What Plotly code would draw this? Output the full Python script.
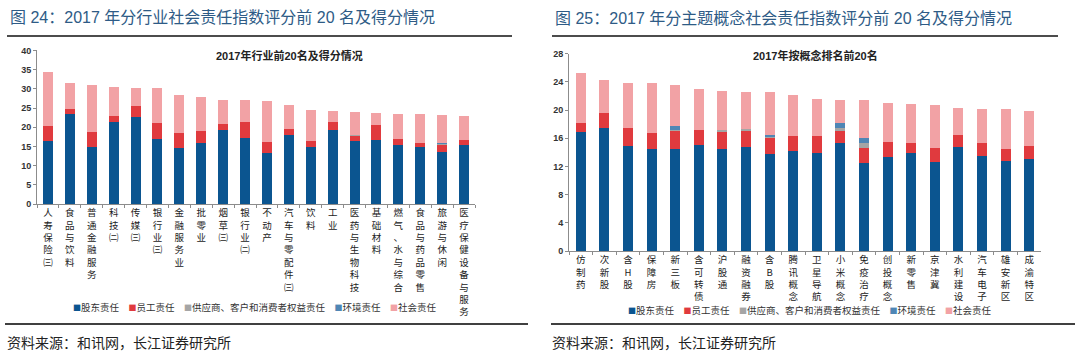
import plotly.graph_objects as go

W, H = 1080, 362

# ---------------- data ----------------
series_names = ["股东责任", "员工责任", "供应商、客户和消费者权益责任", "环境责任", "社会责任"]
series_colors = ["#0b5590", "#e03a3e", "#a5a5a5", "#4f86b5", "#f2a2a5"]

ind_title = "图 24：2017 年分行业社会责任指数评分前 20 名及得分情况"
ind_subtitle = "2017年行业前20名及得分情况"
ind_categories = ["人寿保险(三)", "食品与饮料", "普通金融服务", "科技(二)", "传媒(三)",
                  "银行业(三)", "金融服务业", "批零业", "烟草(三)", "银行业(二)",
                  "不动产", "汽车与零配件(三)", "饮料", "工业", "医药与生物科技",
                  "基础材料", "燃气、水与综合", "食品与药品零售", "旅游与休闲", "医疗保健设备与服务"]
ind_shareholder = [16.4, 23.5, 14.9, 21.3, 22.6, 17.0, 14.6, 15.9, 19.4, 17.2,
                   13.3, 18.1, 14.9, 19.2, 16.5, 16.7, 15.4, 14.8, 13.6, 15.4]
ind_employee = [4.0, 1.3, 3.8, 1.7, 3.0, 4.1, 4.0, 3.1, 1.4, 4.1,
                2.8, 1.4, 1.6, 2.2, 1.3, 4.0, 1.6, 1.1, 1.9, 1.3]
ind_supplier = [0, 0, 0, 0, 0, 0, 0, 0, 0, 0,
                0, 0, 0, 0, 0.1, 0, 0, 0, 0.1, 0]
ind_environment = [0, 0, 0, 0, 0, 0, 0, 0, 0, 0,
                   0, 0, 0, 0, 0, 0, 0, 0, 0.3, 0]
ind_social = [14.0, 6.7, 12.2, 7.4, 4.6, 9.0, 9.7, 8.8, 6.4, 5.9,
              10.6, 6.2, 7.9, 2.8, 6.0, 3.1, 6.5, 7.6, 7.3, 6.3]

con_title = "图 25：2017 年分主题概念社会责任指数评分前 20 名及得分情况"
con_subtitle = "2017年按概念排名前20名"
con_categories = ["仿制药", "次新股", "含H股", "保障房", "新三板", "含可转债", "沪股通", "融资融券",
                  "含B股", "腾讯概念", "卫星导航", "小米概念", "免疫治疗", "创投概念", "新零售",
                  "京津冀", "水利建设", "汽车电子", "雄安新区", "成渝特区"]
con_shareholder = [16.9, 17.5, 14.9, 14.5, 14.4, 15.0, 14.5, 14.8, 13.7, 14.2,
                   13.9, 15.3, 12.5, 13.4, 13.9, 12.6, 14.8, 13.5, 12.8, 13.0]
con_employee = [1.2, 2.1, 2.6, 2.2, 2.7, 2.1, 2.5, 2.3, 2.4, 2.1,
                2.4, 1.9, 2.1, 2.0, 1.4, 2.0, 1.7, 1.8, 1.7, 1.9]
con_supplier = [0, 0, 0, 0, 0.1, 0, 0.2, 0.2, 0.1, 0,
                0, 0.2, 0.7, 0, 0, 0, 0, 0, 0, 0]
con_environment = [0, 0, 0, 0, 0.6, 0, 0, 0, 0.3, 0,
                   0, 0.8, 0.7, 0, 0, 0, 0, 0, 0, 0]
con_social = [7.1, 4.7, 6.4, 7.1, 5.8, 5.9, 5.5, 5.3, 6.0, 5.8,
              5.2, 3.2, 5.4, 5.6, 5.6, 6.1, 3.8, 4.9, 5.7, 4.9]

source_text = "资料来源：和讯网，长江证券研究所"

# ---------------- helpers ----------------
def px(x):
    return x / W

def py(y):
    return 1 - y / H

def vertical(label):
    # vertical (one character per line) category label; the bracketed rank
    # suffix is kept as one compact parenthesised glyph
    label = label.replace("(三)", "㈢").replace("(二)", "㈡")
    return "<br>".join(list(label))

CJK = "Noto Sans CJK SC"
LAT = "Liberation Sans, Arial, Noto Sans CJK SC"

fig = go.Figure()

panels = [
    dict(cats=ind_categories,
         vals=[ind_shareholder, ind_employee, ind_supplier, ind_environment, ind_social],
         xa="x", ya="y", width=0.46),
    dict(cats=con_categories,
         vals=[con_shareholder, con_employee, con_supplier, con_environment, con_social],
         xa="x2", ya="y2", width=0.43),
]

for p in panels:
    for name, color, vals in zip(series_names, series_colors, p["vals"]):
        fig.add_trace(go.Bar(
            x=p["cats"], y=vals, name=name, marker_color=color,
            marker_line_width=0, width=p["width"],
            xaxis=p["xa"], yaxis=p["ya"], showlegend=False,
        ))

axis_color = "#8c8c8c"
xcommon = dict(type="category", showline=True, linecolor=axis_color, linewidth=1,
               ticks="outside", tickson="boundaries", ticklen=3, tickcolor=axis_color,
               tickangle=0, showgrid=False, zeroline=False,
               tickfont=dict(family=CJK, size=9.5, color="#222222"))
ycommon = dict(showline=True, linecolor=axis_color, linewidth=1, ticks="outside",
               ticklen=3, tickcolor=axis_color, showgrid=False, zeroline=False,
               tickfont=dict(family=LAT, size=9, color="#333333", weight="bold"))

fig.update_layout(
    width=W, height=H,
    margin=dict(l=0, r=0, t=0, b=0),
    paper_bgcolor="white", plot_bgcolor="white",
    barmode="stack",
    showlegend=False,
    xaxis=dict(domain=[px(37), px(475)], anchor="y",
               tickvals=ind_categories, ticktext=[vertical(c) for c in ind_categories], **xcommon),
    yaxis=dict(domain=[py(204.7), py(46.7)], anchor="x", range=[0, 40], dtick=5, **ycommon),
    xaxis2=dict(domain=[px(569), px(1041)], anchor="y2",
                tickvals=con_categories, ticktext=[vertical(c) for c in con_categories], **xcommon),
    yaxis2=dict(domain=[py(253), py(50)], anchor="x2", range=[0, 28], dtick=4, **ycommon),
)

annotations = []
shapes = []

def legend_text(gap):
    parts = []
    for name, color in zip(series_names, series_colors):
        parts.append(f"<span style='color:{color};font-size:8px'>■</span>{name}")
    return gap.join(parts)

panel_layout = [
    dict(x0=8, line_top=(7, 512), line_bot=(5, 528), title=ind_title, sub=ind_subtitle,
         subx=289, legx=255, legy=311, gap="\u2002\u2002"),
    dict(x0=553, line_top=(552, 1058), line_bot=(551, 1075), title=con_title, sub=con_subtitle,
         subx=815, legx=810, legy=314, gap="\u2002\u2002"),
]

for pl in panel_layout:
    annotations.append(dict(x=px(pl["x0"]), y=py(13), xref="paper", yref="paper",
                            xanchor="left", yanchor="middle", showarrow=False,
                            text=pl["title"],
                            font=dict(family=LAT, size=16, color="#2e5b86")))
    annotations.append(dict(x=px(pl["subx"]), y=py(52), xref="paper", yref="paper",
                            xanchor="center", yanchor="middle", showarrow=False,
                            text=pl["sub"],
                            font=dict(family=LAT, size=11, color="#222222", weight="bold")))
    annotations.append(dict(x=px(pl["legx"]), y=py(pl["legy"]), xref="paper", yref="paper",
                            xanchor="center", yanchor="middle", showarrow=False,
                            text=legend_text(pl["gap"]),
                            font=dict(family=CJK, size=9.5, color="#333333")))
    annotations.append(dict(x=px(pl["x0"] - 3), y=py(347), xref="paper", yref="paper",
                            xanchor="left", yanchor="middle", showarrow=False,
                            text=source_text,
                            font=dict(family=CJK, size=14, color="#222222")))
    shapes.append(dict(type="line", xref="paper", yref="paper",
                       x0=px(pl["line_top"][0]), x1=px(pl["line_top"][1]),
                       y0=py(32), y1=py(32), line=dict(color="#111111", width=1.5)))
    shapes.append(dict(type="line", xref="paper", yref="paper",
                       x0=px(pl["line_bot"][0]), x1=px(pl["line_bot"][1]),
                       y0=py(328), y1=py(328), line=dict(color="#404040", width=2)))

fig.update_layout(annotations=annotations, shapes=shapes)

# remove the default page margin so the figure sits at the window's top-left corner
fig.write_html("out.html",
               config={"displayModeBar": False},
               post_script="document.body.style.margin='0';document.body.style.overflow='hidden';")
